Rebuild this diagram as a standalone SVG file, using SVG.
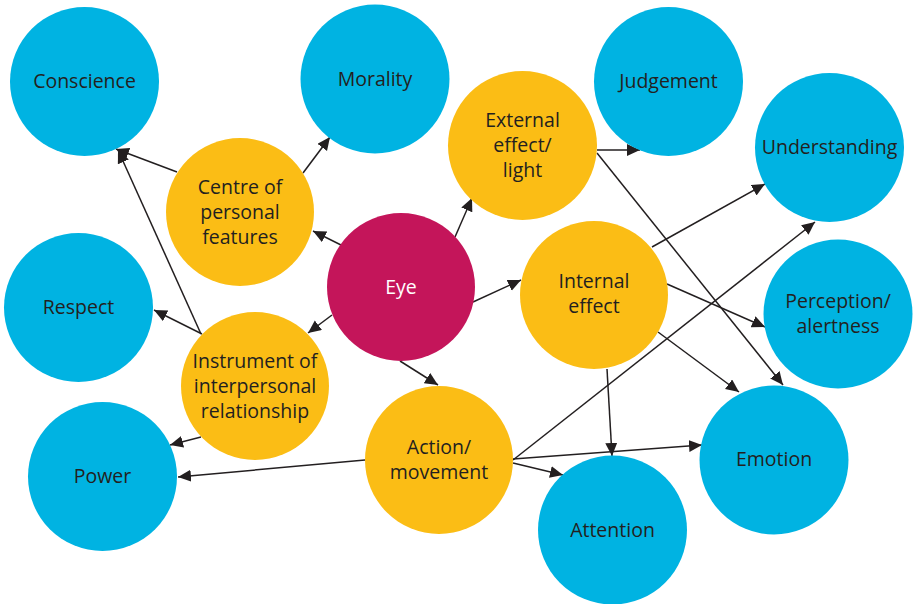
<svg xmlns="http://www.w3.org/2000/svg" width="913" height="604" viewBox="0 0 913 604">
  <style>
    .outcome { fill: #00b3e2; }
    .mode { fill: #fbbd15; }
    .core { fill: #c4155a; }
    .label { font-family: "Open Sans", "Liberation Sans", sans-serif; font-size: 19.5px; fill: #231f20; text-anchor: middle; }
    .core-label { fill: #ffffff; }
    .link { stroke: #231f20; stroke-width: 1.5; fill: none; marker-end: url(#arrow); }
  </style>
  <defs>
    <marker id="arrow" markerUnits="userSpaceOnUse" markerWidth="14" markerHeight="13" refX="13" refY="6" orient="auto">
      <path d="M0,0 L13,6 L0,12 z" fill="#231f20"/>
    </marker>
  </defs>
  <rect width="913" height="604" fill="#ffffff"/>

  <!-- connectors -->
  <g id="connectors">
    <line class="link" x1="177" y1="172" x2="116" y2="149"/>
    <line class="link" x1="201" y1="334" x2="118" y2="150"/>
    <line class="link" x1="303" y1="173" x2="330" y2="137"/>
    <line class="link" x1="341" y1="245" x2="313" y2="231"/>
    <line class="link" x1="332" y1="315" x2="308" y2="333"/>
    <line class="link" x1="455" y1="237" x2="472" y2="198"/>
    <line class="link" x1="473" y1="302" x2="521" y2="280"/>
    <line class="link" x1="400" y1="361" x2="438" y2="385"/>
    <line class="link" x1="597" y1="150" x2="640" y2="150"/>
    <line class="link" x1="597" y1="153" x2="783" y2="385"/>
    <line class="link" x1="652" y1="247" x2="765" y2="184"/>
    <line class="link" x1="667" y1="284" x2="765" y2="327"/>
    <line class="link" x1="658" y1="332" x2="739" y2="392"/>
    <line class="link" x1="607" y1="369" x2="612" y2="456"/>
    <line class="link" x1="513" y1="460" x2="815" y2="222"/>
    <line class="link" x1="513" y1="459" x2="702" y2="445"/>
    <line class="link" x1="513" y1="463" x2="563" y2="475"/>
    <line class="link" x1="365" y1="460" x2="178" y2="477"/>
    <line class="link" x1="201" y1="437" x2="170" y2="445"/>
    <line class="link" x1="202" y1="334" x2="154" y2="310"/>
  </g>

  <!-- outcome nodes -->
  <g id="conscience">
    <circle class="outcome" cx="84.5" cy="81.5" r="74.5"/>
    <text class="label" x="84.5" y="88">Conscience</text>
  </g>
  <g id="morality">
    <circle class="outcome" cx="375" cy="79" r="74.5"/>
    <text class="label" x="375" y="86">Morality</text>
  </g>
  <g id="judgement">
    <circle class="outcome" cx="668.5" cy="81.5" r="74.5"/>
    <text class="label" x="668.5" y="88">Judgement</text>
  </g>
  <g id="understanding">
    <circle class="outcome" cx="829.5" cy="147.5" r="74.5"/>
    <text class="label" x="829.5" y="154">Understanding</text>
  </g>
  <g id="respect">
    <circle class="outcome" cx="78.5" cy="307.5" r="74.5"/>
    <text class="label" x="78.5" y="314">Respect</text>
  </g>
  <g id="perception">
    <circle class="outcome" cx="838" cy="314" r="74.5"/>
    <text class="label" x="838" y="308">Perception/</text>
    <text class="label" x="838" y="333">alertness</text>
  </g>
  <g id="power">
    <circle class="outcome" cx="102.5" cy="476.5" r="74.5"/>
    <text class="label" x="102.5" y="483">Power</text>
  </g>
  <g id="emotion">
    <circle class="outcome" cx="774" cy="460" r="74.5"/>
    <text class="label" x="774" y="466">Emotion</text>
  </g>
  <g id="attention">
    <circle class="outcome" cx="612.5" cy="530" r="74.5"/>
    <text class="label" x="612.5" y="537">Attention</text>
  </g>

  <!-- intermediate nodes -->
  <g id="centre-of-personal-features">
    <circle class="mode" cx="240" cy="212" r="74"/>
    <text class="label" x="240" y="194">Centre of</text>
    <text class="label" x="240" y="219">personal</text>
    <text class="label" x="240" y="244">features</text>
  </g>
  <g id="external-effect">
    <circle class="mode" cx="522.5" cy="145.5" r="74.5"/>
    <text class="label" x="522.5" y="127">External</text>
    <text class="label" x="522.5" y="152">effect/</text>
    <text class="label" x="522.5" y="177">light</text>
  </g>
  <g id="internal-effect">
    <circle class="mode" cx="594" cy="295" r="74"/>
    <text class="label" x="594" y="288">Internal</text>
    <text class="label" x="594" y="313">effect</text>
  </g>
  <g id="instrument">
    <circle class="mode" cx="255" cy="386" r="74"/>
    <text class="label" x="255" y="368">Instrument of</text>
    <text class="label" x="255" y="393">interpersonal</text>
    <text class="label" x="255" y="418">relationship</text>
  </g>
  <g id="action-movement">
    <circle class="mode" cx="439" cy="460" r="74"/>
    <text class="label" x="439" y="454">Action/</text>
    <text class="label" x="439" y="479">movement</text>
  </g>

  <!-- central node -->
  <g id="eye">
    <circle class="core" cx="401" cy="287" r="74"/>
    <text class="label core-label" x="401" y="294">Eye</text>
  </g>
</svg>
